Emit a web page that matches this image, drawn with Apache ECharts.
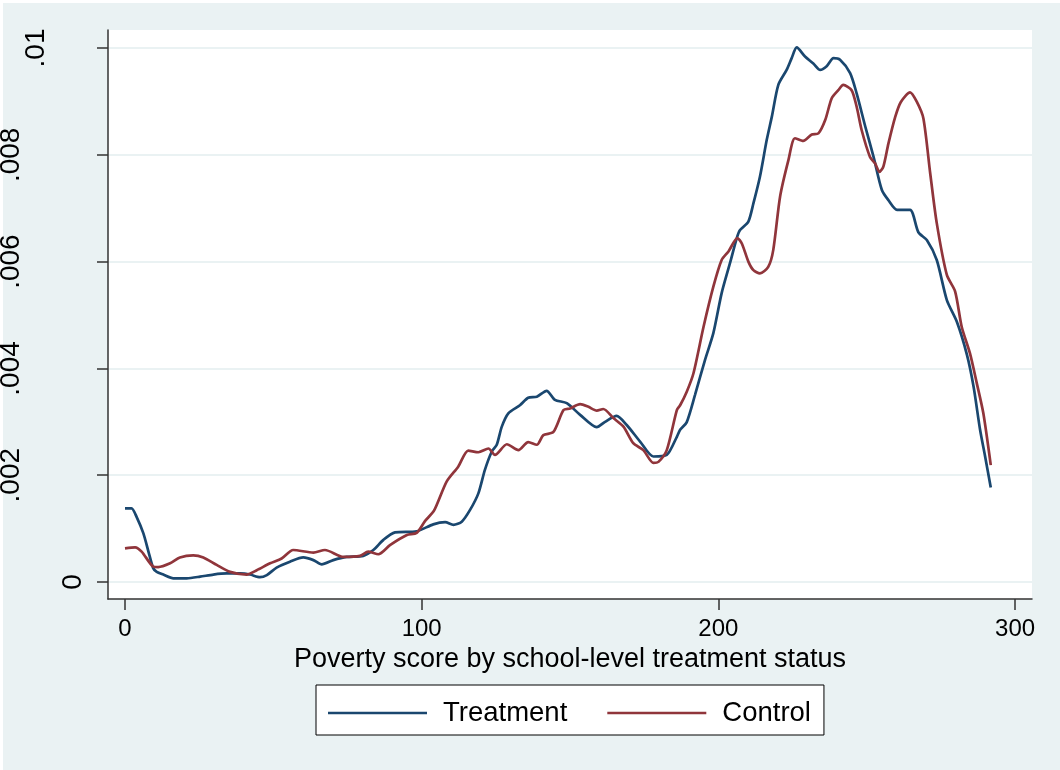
<!DOCTYPE html>
<html>
<head>
<meta charset="utf-8">
<script src="https://cdn.jsdelivr.net/npm/echarts@6/dist/echarts.min.js"></script>
<style>
  html, body { margin: 0; padding: 0; background: #ffffff; }
  #chart { position: absolute; left: 0; top: 0; width: 1060px; height: 770px; }
</style>
</head>
<body>
<div id="chart"></div>
<script>
// Kernel density of poverty score, treatment vs control schools
const treatX = [0, 2.2, 3.9, 6.2, 7.9, 9.5, 10.7, 12.9, 16.3, 20.8, 25.3, 29.8, 34.3, 38.8, 42.1, 45.5, 47.8, 51.1, 55.6, 60.1, 63.5, 66.3, 70.2, 74.7, 80.3, 83.7, 87.1, 91, 98.3, 103.9, 107.9, 110.7, 113.5, 116.3, 119.1, 121.3, 123.6, 125.3, 127, 129.2, 133.1, 135.9, 138.8, 142.1, 144.9, 148.9, 153.4, 159, 161.8, 165.7, 169.1, 173.6, 178.1, 182.6, 186, 187.1, 189.3, 192.1, 195.5, 198.3, 201.1, 203.9, 206.2, 207.3, 210.1, 211.8, 214, 216.3, 218, 220.2, 223, 224.7, 226.4, 229.2, 232, 234.3, 236.5, 238.8, 241, 244.4, 246.6, 249.5, 252.3, 255.1, 257.3, 260.2, 264.6, 267.4, 270.3, 273.6, 277, 280.4, 283.8, 286, 288.2, 289.9, 291.8];
const treatY = [0.00138, 0.00138, 0.00122, 0.00091, 0.00057, 0.00026, 0.00019, 0.00014, 0.00007, 0.00007, 0.0001, 0.00014, 0.00016, 0.00016, 0.00014, 0.00009, 0.00013, 0.00027, 0.00038, 0.00046, 0.00041, 0.00033, 0.00041, 0.00047, 0.00049, 0.0006, 0.00079, 0.00093, 0.00095, 0.00108, 0.00112, 0.00107, 0.00113, 0.00135, 0.00166, 0.0021, 0.00244, 0.00257, 0.00291, 0.00316, 0.00331, 0.00345, 0.00347, 0.00358, 0.00341, 0.00335, 0.00313, 0.0029, 0.003, 0.00311, 0.00294, 0.00263, 0.00235, 0.00238, 0.00272, 0.00285, 0.00299, 0.0035, 0.00416, 0.00466, 0.00541, 0.00597, 0.00644, 0.00659, 0.00675, 0.00709, 0.00759, 0.00828, 0.00871, 0.00931, 0.00959, 0.00981, 0.01001, 0.00984, 0.00971, 0.00959, 0.00966, 0.00981, 0.00978, 0.00953, 0.00915, 0.00853, 0.00796, 0.00734, 0.00715, 0.00697, 0.00697, 0.00655, 0.0064, 0.00603, 0.00528, 0.00487, 0.00425, 0.00366, 0.00285, 0.00235, 0.00177];

const ctrlX = [0, 3.4, 5.6, 9.5, 11.2, 15.2, 18.5, 23, 26.4, 30.9, 35.4, 41, 44.4, 48.9, 52.8, 56.7, 63.5, 67.4, 73.6, 79.2, 82, 85.4, 89.3, 95, 98.3, 101.1, 104.2, 108.4, 112.3, 115.7, 119.1, 122.5, 124.7, 128.7, 132.6, 135.9, 138.8, 141, 144.4, 147.8, 150, 153.4, 156.2, 159, 161.2, 164.6, 168, 171.3, 174.7, 178.1, 179.8, 182.6, 186, 187.1, 189.3, 191.6, 195, 198.3, 201.1, 203.4, 206.4, 207.9, 210.1, 211.8, 214, 216.8, 218.5, 220.8, 223.6, 225.8, 228.6, 231.5, 233.7, 236, 238.2, 240.4, 242.1, 244.9, 246.6, 248.3, 251.1, 252.8, 254.3, 255.6, 257.3, 259.6, 261.5, 264.6, 266.9, 269.1, 271.4, 273.6, 277, 279.8, 282, 284.8, 287.1, 289.3, 291.8];
const ctrlY = [0.00063, 0.00065, 0.00057, 0.00029, 0.00028, 0.00035, 0.00046, 0.0005, 0.00046, 0.00032, 0.00019, 0.00014, 0.00022, 0.00035, 0.00044, 0.0006, 0.00055, 0.0006, 0.00047, 0.00049, 0.00057, 0.00052, 0.00069, 0.00088, 0.00092, 0.00114, 0.00134, 0.00188, 0.00216, 0.00246, 0.00243, 0.0025, 0.00238, 0.00258, 0.00247, 0.00262, 0.00257, 0.00275, 0.00281, 0.00322, 0.00325, 0.00333, 0.00328, 0.00321, 0.00324, 0.00307, 0.00291, 0.0026, 0.00247, 0.00223, 0.00225, 0.00247, 0.00322, 0.00331, 0.00356, 0.00391, 0.00478, 0.00553, 0.00603, 0.00619, 0.00644, 0.00634, 0.006, 0.00584, 0.00578, 0.0059, 0.00622, 0.00722, 0.0079, 0.00831, 0.00826, 0.00838, 0.0084, 0.00865, 0.00906, 0.00921, 0.00931, 0.00921, 0.0089, 0.00846, 0.00796, 0.00784, 0.00768, 0.00778, 0.00821, 0.00871, 0.00899, 0.00917, 0.00899, 0.00868, 0.00765, 0.00672, 0.00575, 0.00544, 0.00478, 0.00428, 0.00372, 0.00316, 0.00219];

const seriesNames = ['Treatment', 'Control'];
const xTicks = [0, 100, 200, 300];
const xTickLabels = ['0', '100', '200', '300'];
const yTicks = [0, 0.002, 0.004, 0.006, 0.008, 0.01];
const yTickLabels = ['0', '.002', '.004', '.006', '.008', '.01'];
const xTitle = 'Poverty score by school-level treatment status';

const FONT = '"Liberation Sans", Arial, Helvetica, sans-serif';
const BG = '#eaf2f3';
const BLUE = '#1a476f';
const RED = '#90353b';

const zip = (xs, ys) => xs.map((x, i) => [x, ys[i]]);

const chart = echarts.init(document.getElementById('chart'), null, { renderer: 'canvas' });

const option = {
  animation: false,
  backgroundColor: BG,
  textStyle: { fontFamily: FONT },
  grid: {
    left: 108, right: 28, top: 30, bottom: 171,
    show: true, backgroundColor: '#ffffff', borderWidth: 0,
    outerBoundsMode: 'none'
  },
  legend: {
    data: seriesNames,
    left: 316, top: 685,
    orient: 'horizontal',
    icon: 'rect',
    itemWidth: 99, itemHeight: 2.5, itemGap: 40,
    backgroundColor: '#ffffff',
    borderColor: '#000000', borderWidth: 1, borderRadius: 0,
    padding: [14, 13, 8, 12],
    textStyle: { fontSize: 27.5, color: '#000000', fontFamily: FONT, padding: [0, 0, 0, 11] }
  },
  xAxis: {
    type: 'value',
    min: -5.73, max: 305.7,
    name: xTitle,
    nameLocation: 'middle',
    nameGap: 38,
    nameTextStyle: { fontSize: 27, color: '#000000', fontFamily: FONT },
    axisLine: { show: true, onZero: false, lineStyle: { color: '#333333', width: 1.5 } },
    axisTick: { show: true, length: 11, customValues: xTicks, lineStyle: { color: '#333333', width: 1.5 } },
    axisLabel: {
      show: true, customValues: xTicks, margin: 18, fontSize: 24, color: '#000000', fontFamily: FONT,
      formatter: v => xTickLabels[xTicks.indexOf(v)]
    },
    splitLine: { show: false }
  },
  yAxis: {
    type: 'value',
    min: -0.000318, max: 0.010337,
    axisLine: { show: true, onZero: false, lineStyle: { color: '#333333', width: 1.5 } },
    axisTick: { show: true, length: 11, customValues: yTicks, lineStyle: { color: '#333333', width: 1.5 } },
    axisLabel: { show: false, customValues: yTicks },
    splitLine: { show: true, lineStyle: { color: BG, width: 2 } }
  },
  series: [
    {
      name: seriesNames[0], type: 'line', data: zip(treatX, treatY),
      symbol: 'none', showSymbol: false, smooth: 0.25,
      color: BLUE, lineStyle: { color: BLUE, width: 2.7 }, z: 3
    },
    {
      name: seriesNames[1], type: 'line', data: zip(ctrlX, ctrlY),
      symbol: 'none', showSymbol: false, smooth: 0.25,
      color: RED, lineStyle: { color: RED, width: 2.7 }, z: 4
    }
  ]
};

chart.setOption(option);

// Rotated y tick labels, placed beside each tick
const measureCtx = document.createElement('canvas').getContext('2d');
measureCtx.font = '24px ' + FONT;
const yLabelGraphics = yTicks.map((v, i) => {
  const py = chart.convertToPixel({ yAxisIndex: 0 }, v);
  const w = measureCtx.measureText(yTickLabels[i]).width;
  return {
    type: 'text',
    x: 98 - 1.85 * w,
    y: py,
    rotation: Math.PI / 2,
    silent: true,
    style: {
      text: yTickLabels[i],
      font: '28px ' + FONT,
      fill: '#000000',
      align: 'center',
      verticalAlign: 'middle'
    }
  };
});

chart.setOption({
  graphic: [
    { type: 'rect', left: 0, top: 0, shape: { width: 1060, height: 3 }, style: { fill: '#ffffff' }, silent: true },
    { type: 'rect', left: 0, top: 0, shape: { width: 3, height: 770 }, style: { fill: '#ffffff' }, silent: true }
  ].concat(yLabelGraphics)
});
</script>
</body>
</html>
